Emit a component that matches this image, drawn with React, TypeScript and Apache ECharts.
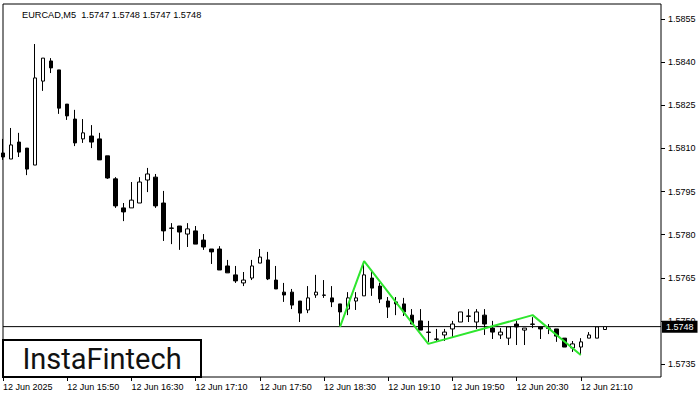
import React, { useEffect, useRef } from "react";
import * as echarts from "echarts";

const titleText = "EURCAD,M5  1.5747 1.5748 1.5747 1.5748";
const lastPrice = 1.5748;

const xTickLabels = [
  "12 Jun 2025", "12 Jun 15:50", "12 Jun 16:30", "12 Jun 17:10", "12 Jun 17:50",
  "12 Jun 18:30", "12 Jun 19:10", "12 Jun 19:50", "12 Jun 20:30", "12 Jun 21:10",
];
const yTickValues = [1.5735, 1.575, 1.5765, 1.578, 1.5795, 1.581, 1.5825, 1.584, 1.5855];

const opens = [1.58084,1.58063,1.58122,1.58101,1.58042,1.58334,1.58404,1.58373,1.58254,1.58202,
1.58133,1.58143,1.58133,1.58074,1.57994,1.57893,1.57893,1.57910,1.57990,1.58000,
1.57910,1.57823,1.57830,1.57802,1.57813,1.57781,1.57750,1.57750,1.57691,1.57660,
1.57632,1.57649,1.57701,1.57712,1.57642,1.57600,1.57600,1.57569,1.57538,1.57590,
1.57590,1.57580,1.57559,1.57541,1.57569,1.57587,1.57649,1.57621,1.57569,1.57566,
1.57559,1.57520,1.57500,1.57461,1.57437,1.57451,1.57472,1.57496,1.57517,1.57496,
1.57520,1.57475,1.57451,1.57440,1.57489,1.57468,1.57489,1.57479,1.57475,1.57472,
1.57440,1.57406,1.57409,1.57440,1.57440,1.5747];

const closes = [1.58070,1.58112,1.58087,1.58028,1.58345,1.58414,1.58380,1.58240,1.58213,1.58119,
1.58154,1.58122,1.58060,1.57997,1.57900,1.57879,1.57920,1.57983,1.58011,1.57900,
1.57813,1.57822,1.57809,1.57820,1.57767,1.57757,1.57740,1.57677,1.57667,1.57639,
1.57642,1.57691,1.57722,1.57646,1.57611,1.57590,1.57555,1.57527,1.57580,1.57600,
1.57589,1.57566,1.57531,1.57580,1.57580,1.57660,1.57614,1.57576,1.57548,1.57559,
1.57531,1.57489,1.57468,1.57460,1.57436,1.57461,1.57489,1.57531,1.57516,1.57531,
1.57489,1.57461,1.57461,1.57479,1.57479,1.57475,1.57488,1.57472,1.57474,1.57447,
1.57409,1.57420,1.57427,1.57451,1.57479,1.5748];

const lows = [1.58060,1.58063,1.58070,1.58007,1.58042,1.58300,1.58362,1.58220,1.58199,1.58108,
1.58119,1.58101,1.58060,1.57994,1.57893,1.57847,1.57893,1.57910,1.57948,1.57893,
1.57778,1.57767,1.57747,1.57757,1.57767,1.57747,1.57698,1.57677,1.57667,1.57632,
1.57621,1.57642,1.57701,1.57642,1.57611,1.57566,1.57541,1.57496,1.57527,1.57580,
1.57580,1.57548,1.57479,1.57520,1.57538,1.57587,1.57587,1.57562,1.57510,1.57520,
1.57517,1.57489,1.57468,1.57427,1.57427,1.57430,1.57444,1.57496,1.57496,1.57472,
1.57451,1.57437,1.57437,1.57416,1.57416,1.57416,1.57475,1.57437,1.57454,1.57427,
1.57409,1.57392,1.57381,1.57440,1.57440,1.5747];

const highs = [1.58133,1.58171,1.58154,1.58101,1.58463,1.58414,1.58414,1.58373,1.58254,1.58234,
1.58202,1.58181,1.58154,1.58074,1.58000,1.57910,1.57983,1.58000,1.58032,1.58011,
1.57952,1.57840,1.57830,1.57840,1.57830,1.57802,1.57750,1.57760,1.57712,1.57691,
1.57670,1.57712,1.57750,1.57740,1.57691,1.57632,1.57611,1.57569,1.57621,1.57660,
1.57642,1.57621,1.57559,1.57600,1.57600,1.57708,1.57677,1.57632,1.57583,1.57583,
1.57580,1.57541,1.57541,1.57500,1.57472,1.57472,1.57500,1.57531,1.57541,1.57541,
1.57541,1.57500,1.57475,1.57479,1.57500,1.57475,1.57513,1.57479,1.57489,1.57472,
1.57440,1.57430,1.57440,1.57461,1.57479,1.5748];

// pattern line vertices: bar index and price
const patternIdx = [42, 45, 53, 66, 72];
const patternVal = [1.57479, 1.57708, 1.5742, 1.5752, 1.57381];

const slotCount = 83; // 5-minute slots visible on the x axis, from 15:10
const startMinutes = 15 * 60 + 10;

function slotLabel(i: number): string {
  const m = startMinutes + i * 5;
  const hh = String(Math.floor(m / 60)).padStart(2, "0");
  const mm = String(m % 60).padStart(2, "0");
  return `12 Jun ${hh}:${mm}`;
}

const FONT = "Liberation Sans";

export default function App() {
  const ref = useRef<HTMLDivElement>(null);
  useEffect(() => {
    if (!ref.current) return;
    const chart = echarts.init(ref.current, undefined, { renderer: "svg" });
    const categories = Array.from({ length: slotCount }, (_, i) => slotLabel(i));
    const candles = opens.map((o, i) => [o, closes[i], lows[i], highs[i]]);
    const showTick = (i: number) => i % 8 === 0 && i / 8 < xTickLabels.length;
    chart.setOption({
      animation: false,
      backgroundColor: "#ffffff",
      title: {
        text: titleText,
        left: 17,
        top: 5,
        textStyle: { fontFamily: FONT, fontSize: 9.2, fontWeight: "normal", color: "#000" },
      },
      grid: {
        left: 3,
        right: 39,
        top: 4,
        bottom: 23,
        show: true,
        borderColor: "#000",
        borderWidth: 1,
        backgroundColor: "transparent",
      },
      xAxis: {
        type: "category",
        data: categories,
        boundaryGap: false,
        axisLine: { show: false },
        axisTick: {
          show: true,
          interval: (i: number) => showTick(i),
          length: 4,
          lineStyle: { color: "#000" },
        },
        axisLabel: {
          interval: (i: number) => showTick(i),
          formatter: (_v: string, i: number) => xTickLabels[i / 8] ?? "",
          align: "left",
          margin: 5,
          fontFamily: FONT,
          fontSize: 9,
          color: "#000",
        },
        splitLine: { show: false },
      },
      yAxis: {
        type: "value",
        position: "right",
        min: 1.573048,
        max: 1.586022,
        scale: true,
        axisLine: { show: false },
        axisTick: {
          show: true,
          length: 4,
          customValues: yTickValues,
          lineStyle: { color: "#000" },
        },
        axisLabel: {
          customValues: yTickValues,
          formatter: (v: number) => v.toFixed(4),
          margin: 7,
          fontFamily: FONT,
          fontSize: 9,
          color: "#000",
        },
        splitLine: { show: false },
      },
      series: [
        {
          type: "line",
          data: [
            [0, lastPrice],
            [slotCount - 1, lastPrice],
          ],
          showSymbol: false,
          symbol: "none",
          silent: true,
          clip: false,
          lineStyle: { color: "#000", width: 1 },
          z: 1,
          endLabel: {
            show: true,
            formatter: () => lastPrice.toFixed(4),
            backgroundColor: "#000",
            color: "#fff",
            padding: [2, 4, 1, 4],
            distance: 1,
            fontFamily: FONT,
            fontSize: 9,
          },
        },
        {
          type: "candlestick",
          data: candles,
          barWidth: 4,
          z: 2,
          itemStyle: {
            color: "#ffffff",
            color0: "#000000",
            borderColor: "#000000",
            borderColor0: "#000000",
            borderWidth: 1,
          },
        },
        {
          type: "line",
          data: patternIdx.map((i, j) => [i, patternVal[j]]),
          showSymbol: false,
          symbol: "none",
          lineStyle: { color: "#2ee62e", width: 2 },
          z: 5,
        },
      ],
      graphic: [
        {
          type: "group",
          z: 100,
          children: [
            {
              type: "rect",
              shape: { x: 3, y: 340, width: 198, height: 37 },
              style: { fill: "#ffffff", stroke: "#000", lineWidth: 2 },
            },
            {
              type: "text",
              x: 102,
              y: 359,
              style: {
                text: "InstaFintech",
                font: "29px Roboto",
                fill: "#111",
                align: "center",
                verticalAlign: "middle",
              },
            },
          ],
        },
      ],
    });
    return () => chart.dispose();
  }, []);
  return (
    <div
      ref={ref}
      style={{ position: "absolute", left: 0, top: 0, width: 700, height: 400 }}
    />
  );
}
